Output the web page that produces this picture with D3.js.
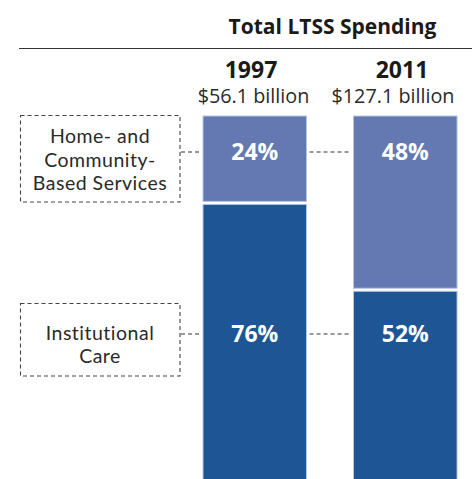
<!DOCTYPE html>
<html><head><meta charset="utf-8">
<script src="https://cdn.jsdelivr.net/npm/d3@7"></script>
<style>
html,body{margin:0;padding:0;background:#fff;}
svg{display:block;font-family:"Open Sans",sans-serif;}
</style></head>
<body><svg id="c" width="472" height="479"></svg>
<script>
const years = ["1997", "2011"];
const totals = ["$56.1 billion", "$127.1 billion"];
const categories = ["Home- and Community-Based Services", "Institutional Care"];
const categoryLines = [["Home- and", "Community-", "Based Services"], ["Institutional", "Care"]];
const homeShare = [24, 48];
const instShare = [76, 52];
const title = "Total LTSS Spending";

const svg = d3.select("#c");
const x = d3.scaleBand().domain(years).range([157.85, 502.2]).paddingInner(0.312).paddingOuter(0.3);
const y = d3.scaleLinear().domain([0, 100]).range([116, 478]);
const colors = {home: "#6479b1", inst: "#1d5595"};

// title + rule
svg.append("text").attr("x", 332.5).attr("y", 34).attr("text-anchor", "middle")
  .attr("font-weight", 700).attr("font-size", 21).attr("fill", "#1a1a1a").text(title);
svg.append("line").attr("x1", 19).attr("x2", 472).attr("y1", 48.5).attr("y2", 48.5)
  .attr("stroke", "#333").attr("stroke-width", 1.2);

const rows = years.map((yr, i) => ({year: yr, total: totals[i], home: homeShare[i], inst: instShare[i]}));
const yearX = [251, 402];
const totalX = [253.5, 393];

rows.forEach((d, i) => {
  svg.append("text").attr("x", yearX[i]).attr("y", 78).attr("text-anchor", "middle")
    .attr("font-weight", 700).attr("font-size", 23).attr("fill", "#1a1a1a").text(d.year);
  svg.append("text").attr("x", totalX[i]).attr("y", 103).attr("text-anchor", "middle")
    .attr("font-size", 19.8).attr("fill", "#2a2a2a").text(d.total);
  // home segment
  svg.append("rect").attr("x", x(d.year)).attr("y", y(0))
    .attr("width", x.bandwidth()).attr("height", y(d.home) - y(0) - 1.5)
    .attr("fill", colors.home).attr("stroke", "#b9c6e0").attr("stroke-width", 1);
  svg.append("rect").attr("x", x(d.year)).attr("y", y(d.home) + 1.5)
    .attr("width", x.bandwidth()).attr("height", y(100) - y(d.home) + 5)
    .attr("fill", colors.inst).attr("stroke", "#b9c6e0").attr("stroke-width", 1);
});

// label rows (connector heights)
const labelRows = [
  {cat: 0, lineY: 152, boxY0: 115.5, boxY1: 202, values: homeShare, lines: categoryLines[0], base: 143},
  {cat: 1, lineY: 334, boxY0: 303.5, boxY1: 376, values: instShare, lines: categoryLines[1], base: 339.5}
];
labelRows.forEach(r => {
  svg.append("rect").attr("x", 20.5).attr("y", r.boxY0).attr("width", 159.5).attr("height", r.boxY1 - r.boxY0)
    .attr("fill", "none").attr("stroke", "#444").attr("stroke-width", 1.1).attr("stroke-dasharray", "4,3");
  r.lines.forEach((t, k) => {
    svg.append("text").attr("x", 100).attr("y", r.base + k * 23.5).attr("text-anchor", "middle")
      .style("font-family", "Lato, sans-serif").attr("letter-spacing", 0.5)
      .attr("font-size", 19.5).attr("fill", "#2a2a2a").text(t);
  });
  const b0 = x(years[0]), b1 = x(years[1]);
  svg.append("line").attr("x1", 181).attr("x2", b0 - 3).attr("y1", r.lineY).attr("y2", r.lineY)
    .attr("stroke", "#333").attr("stroke-width", 1.1).attr("stroke-dasharray", "4,3");
  svg.append("line").attr("x1", b0 + x.bandwidth() + 3).attr("x2", b1 - 3).attr("y1", r.lineY).attr("y2", r.lineY)
    .attr("stroke", "#333").attr("stroke-width", 1.1).attr("stroke-dasharray", "4,3");
  years.forEach((yr, i) => {
    svg.append("text").attr("x", x(yr) + x.bandwidth() / 2).attr("y", r.lineY + 8)
      .attr("text-anchor", "middle").attr("font-weight", 700).attr("font-size", 23)
      .attr("fill", "#fff").text(r.values[i] + "%");
  });
});
</script></body></html>
